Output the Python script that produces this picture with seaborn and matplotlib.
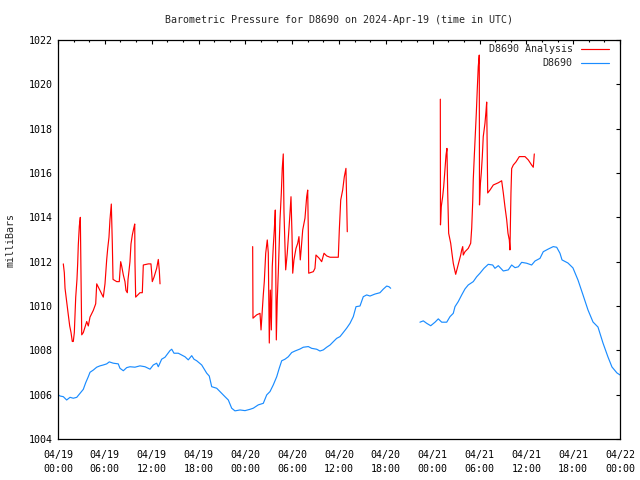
import numpy as np
import pandas as pd
import seaborn as sns
import matplotlib.pyplot as plt
from matplotlib.ticker import MultipleLocator

# hours since 2024-04-19 00:00 UTC, pressure in millibars
analysis_h1 = [0.68, 0.81, 0.90, 1.11, 1.32, 1.50, 1.67, 1.83, 1.96, 2.09, 2.27, 2.43, 2.52,
               2.60, 2.73, 2.86, 2.95, 3.04, 3.24, 3.68, 3.88, 4.10, 4.52, 4.83, 4.96, 5.38,
               5.80, 6.02, 6.24, 6.37, 6.53, 6.66, 6.83, 6.96, 7.05, 7.52, 7.85, 8.03, 8.16,
               8.37, 8.58, 8.71, 8.88, 8.97, 9.10, 9.22, 9.35, 9.52, 9.70, 9.83, 9.86, 9.95,
               10.50, 10.80, 10.93, 11.57, 11.91, 12.00, 12.08, 12.30, 12.64, 12.85, 12.98, 13.07]
analysis_v1 = [1011.9, 1011.5, 1010.8, 1010.2, 1009.6, 1009.1, 1008.8, 1008.4, 1008.4, 1008.8,
               1010.4, 1011.2, 1011.9, 1012.75, 1013.6, 1014.0, 1011.3, 1008.7, 1008.8, 1009.3,
               1009.1, 1009.5, 1009.8, 1010.1, 1011.0, 1010.7, 1010.4, 1011.0, 1012.1, 1012.6,
               1013.1, 1013.9, 1014.6, 1012.8, 1011.2, 1011.1, 1011.1, 1012.0, 1011.8, 1011.4,
               1011.1, 1010.7, 1010.6, 1011.2, 1011.6, 1012.0, 1012.8, 1013.2, 1013.5, 1013.7,
               1012.0, 1010.4, 1010.6, 1010.6, 1011.85, 1011.9, 1011.9, 1011.5, 1011.1, 1011.3,
               1011.7, 1012.1, 1011.6, 1011.0]

analysis_h2 = [24.94, 24.98, 25.45, 25.88, 26.01, 26.30, 26.43, 26.61, 26.81, 26.94, 27.07,
               27.20, 27.33, 27.45, 27.58, 27.71, 27.84, 27.97, 28.09, 28.22, 28.44, 28.61,
               28.73, 28.86, 28.95, 29.08, 29.17, 29.37, 29.55, 29.72, 29.85, 29.98, 30.07,
               30.23, 30.49, 30.71, 30.87, 31.04, 31.17, 31.35, 31.64, 31.86, 31.99, 32.07,
               32.12, 32.71, 32.92, 33.05, 33.47, 33.78, 34.08, 34.42, 34.85, 35.91, 36.04,
               36.22, 36.47, 36.68, 36.89, 36.98, 37.06]
analysis_v2 = [1012.68, 1009.45, 1009.6, 1009.67, 1008.92, 1010.5, 1011.1, 1012.38, 1012.98,
               1012.4, 1008.33, 1010.72, 1008.92, 1011.77, 1012.68, 1013.43, 1014.33, 1008.47,
               1010.27, 1011.48, 1013.88, 1015.09, 1016.21, 1016.86, 1014.26, 1012.68, 1011.63,
               1012.38, 1013.28, 1014.18, 1014.93, 1013.2, 1011.48, 1012.08, 1012.6, 1012.83,
               1013.13, 1012.08, 1012.62, 1013.43, 1013.96, 1014.93, 1015.23, 1013.35, 1011.48,
               1011.55, 1011.7, 1012.3, 1012.15, 1012.0, 1012.38, 1012.26, 1012.2, 1012.2,
               1013.43, 1014.78, 1015.23, 1015.83, 1016.21, 1014.78, 1013.35]

analysis_h3 = [48.98, 49.0, 49.10, 49.28, 49.41, 49.54, 49.71, 49.83, 49.92, 50.05, 50.31,
               50.47, 50.64, 50.82, 50.95, 51.15, 51.37, 51.59, 51.72, 51.85, 51.92, 52.14,
               52.56, 52.87, 53.00, 53.13, 53.20, 53.33, 53.46, 53.59, 53.72, 53.84, 53.97,
               54.0, 54.10, 54.23, 54.36, 54.48, 54.70, 54.83, 54.92, 55.05, 55.34, 55.77,
               56.41, 56.84, 57.05, 57.26, 57.48, 57.65, 57.82, 57.90, 58.03, 58.12, 58.33,
               58.67, 59.10, 59.83, 60.25, 60.68, 60.89, 61.02]
analysis_v3 = [1019.33, 1013.66, 1014.48, 1014.93, 1015.38, 1015.99, 1016.81, 1017.11, 1015.23,
               1013.28, 1012.83, 1012.38, 1011.93, 1011.63, 1011.43, 1011.7, 1012.0, 1012.3,
               1012.53, 1012.68, 1012.3, 1012.45, 1012.6, 1012.83, 1013.51, 1014.71, 1015.69,
               1016.74, 1017.72, 1018.69, 1019.82, 1020.8, 1021.32, 1014.56, 1015.46, 1016.0,
               1016.74, 1017.64, 1018.24, 1018.77, 1019.2, 1015.1, 1015.23, 1015.46, 1015.56,
               1015.65, 1015.1, 1014.48, 1013.9, 1013.28, 1012.98, 1012.53, 1015.1, 1016.2,
               1016.36, 1016.5, 1016.74, 1016.74, 1016.59, 1016.36, 1016.26, 1016.86]

station_h1 = [0.0, 0.26, 0.68, 1.11, 1.54, 1.96, 2.40, 2.82, 3.24, 3.55, 3.88, 4.10, 4.52, 4.96,
              5.38, 5.80, 6.24, 6.57, 7.08, 7.72, 7.94, 8.37, 8.80, 9.22, 9.86, 10.50, 11.15,
              11.79, 12.21, 12.64, 12.85, 13.28, 13.71, 14.35, 14.57, 14.86, 15.41, 16.27,
              16.69, 17.13, 17.42, 17.77, 18.41, 19.05, 19.38, 19.69, 20.33, 20.75, 21.39,
              21.82, 22.25, 22.67, 23.32, 23.96, 24.60, 25.02, 25.66, 26.30, 26.74, 27.16,
              27.58, 28.02, 28.35, 28.66, 29.08, 29.50, 29.94, 30.36, 31.00, 31.42, 32.07,
              32.50, 33.14, 33.56, 33.99, 34.42, 34.85, 35.27, 35.70, 36.13, 36.47, 36.98,
              37.41, 37.83, 38.18, 38.69, 39.11, 39.55, 39.97, 40.61, 41.25, 41.67, 42.11,
              42.40, 42.62]
station_v1 = [1006.0, 1005.94, 1005.91, 1005.76, 1005.88, 1005.84, 1005.88, 1006.06, 1006.24,
              1006.54, 1006.81, 1007.01, 1007.11, 1007.24, 1007.30, 1007.34, 1007.39, 1007.48,
              1007.42, 1007.39, 1007.19, 1007.08, 1007.22, 1007.26, 1007.24, 1007.30, 1007.26,
              1007.15, 1007.34, 1007.42, 1007.26, 1007.60, 1007.69, 1007.99, 1008.05, 1007.87,
              1007.87, 1007.71, 1007.57, 1007.76, 1007.60, 1007.53, 1007.34, 1006.97, 1006.84,
              1006.36, 1006.29, 1006.14, 1005.91, 1005.76, 1005.39, 1005.27, 1005.31, 1005.28,
              1005.34, 1005.39, 1005.54, 1005.61, 1005.99, 1006.14, 1006.44, 1006.81, 1007.2,
              1007.53, 1007.60, 1007.71, 1007.90, 1007.97, 1008.06, 1008.14, 1008.17, 1008.09,
              1008.05, 1007.97, 1008.02, 1008.14, 1008.24, 1008.39, 1008.54, 1008.62, 1008.77,
              1009.00, 1009.22, 1009.52, 1009.97, 1010.0, 1010.42, 1010.50, 1010.45, 1010.54,
              1010.60, 1010.76, 1010.90, 1010.87, 1010.80]

station_h2 = [46.37, 46.80, 47.23, 47.75, 48.30, 48.72, 49.16, 49.80, 50.22, 50.64, 50.86,
              51.28, 51.72, 52.14, 52.56, 53.20, 53.64, 54.06, 54.57, 55.12, 55.69, 55.98,
              56.41, 57.05, 57.69, 58.12, 58.55, 58.97, 59.40, 60.04, 60.68, 61.11, 61.75,
              62.17, 62.81, 63.45, 63.89, 64.31, 64.57, 65.33, 65.97, 66.62, 67.26, 67.90,
              68.54, 69.18, 69.82, 70.46, 70.97, 71.61, 72.0]
station_v2 = [1009.27, 1009.33, 1009.22, 1009.11, 1009.27, 1009.42, 1009.27, 1009.27, 1009.52,
              1009.67, 1009.97, 1010.20, 1010.50, 1010.77, 1010.95, 1011.10, 1011.32, 1011.48,
              1011.70, 1011.88, 1011.85, 1011.70, 1011.82, 1011.58, 1011.63, 1011.85, 1011.73,
              1011.77, 1011.97, 1011.93, 1011.85, 1012.03, 1012.15, 1012.45, 1012.57, 1012.68,
              1012.65, 1012.38, 1012.08, 1011.94, 1011.72, 1011.17, 1010.50, 1009.82, 1009.28,
              1009.05, 1008.33, 1007.70, 1007.25, 1006.98, 1006.89]

tick_labels = ["04/19\n00:00", "04/19\n06:00", "04/19\n12:00", "04/19\n18:00",
               "04/20\n00:00", "04/20\n06:00", "04/20\n12:00", "04/20\n18:00",
               "04/21\n00:00", "04/21\n06:00", "04/21\n12:00", "04/21\n18:00",
               "04/22\n00:00"]

series_colors = {"D8690 Analysis": "#ff0000", "D8690": "#1a8cff"}


def segment(hours, values, name, seg):
    return pd.DataFrame({"hour": hours, "mbar": values, "series": name, "seg": seg})


df = pd.concat([
    segment(analysis_h1, analysis_v1, "D8690 Analysis", "a1"),
    segment(analysis_h2, analysis_v2, "D8690 Analysis", "a2"),
    segment(analysis_h3, analysis_v3, "D8690 Analysis", "a3"),
    segment(station_h1, station_v1, "D8690", "s1"),
    segment(station_h2, station_v2, "D8690", "s2"),
], ignore_index=True)

sns.set_style("white")
plt.rcParams["font.family"] = ["DejaVu Sans Mono"]
plt.rcParams["font.size"] = 7

fig = plt.figure(figsize=(6.4, 4.8), dpi=100)
ax = fig.add_axes([0.090625, 0.0854, 0.878125, 0.83125])

sns.lineplot(data=df, x="hour", y="mbar", hue="series", units="seg", estimator=None,
             sort=False, palette=series_colors, legend=False, linewidth=0.85, ax=ax)

ax.set_xlim(0, 72)
ax.set_ylim(1004, 1022)
ax.set_xticks(np.arange(0, 73, 6))
ax.set_xticklabels(tick_labels, linespacing=1.5)
ax.xaxis.set_minor_locator(MultipleLocator(2))
ax.set_yticks(np.arange(1004, 1023, 2))
ax.tick_params(which="both", direction="in", top=True, right=True, colors="black", width=0.8)
ax.tick_params(which="major", length=3, labelsize=7.2)
ax.tick_params(axis="x", which="major", pad=8)
ax.tick_params(axis="y", which="major", pad=4)
ax.tick_params(which="minor", length=1.5)
for sp in ax.spines.values():
    sp.set_color("black")
    sp.set_linewidth(0.9)

ax.set_xlabel("")
ax.set_ylabel("milliBars", fontsize=7.2)
ax.yaxis.set_label_coords(-0.075, 0.5)
ax.set_title("Barometric Pressure for D8690 on 2024-Apr-19 (time in UTC)", fontsize=7.2, pad=12)

# gnuplot-style key: right-aligned labels with the line sample after them
for row, name in enumerate(series_colors):
    ky = 0.977 - row * 0.0335
    ax.text(0.916, ky, name, transform=ax.transAxes, ha="right", va="center", fontsize=7.2)
    ax.plot([0.931, 0.980], [ky, ky], transform=ax.transAxes, color=series_colors[name],
            linewidth=0.85)

fig.savefig("out.png", dpi=100)
